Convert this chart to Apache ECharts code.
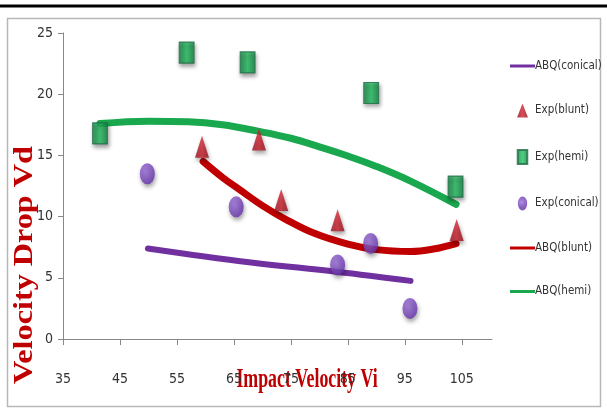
<!DOCTYPE html>
<html>
<head>
<meta charset="utf-8">
<script src="https://cdn.jsdelivr.net/npm/echarts@6/dist/echarts.min.js"></script>
<style>html,body{margin:0;padding:0;background:#fff}#c{width:607px;height:413px}</style>
</head>
<body>
<div id="c"></div>
<script>
// ---- data ----
var xTicks = [35, 45, 55, 65, 75, 85, 95, 105];
var yTicks = [0, 5, 10, 15, 20, 25];
var expBlunt = [[59.4, 15.7], [69.4, 16.3], [73.3, 11.35], [83.2, 9.7], [104.1, 8.9]];
var expHemi = [[41.5, 16.8], [56.7, 23.4], [67.4, 22.6], [89.1, 20.1], [103.9, 12.45]];
var expConical = [[49.8, 13.5], [65.4, 10.8], [83.2, 6.05], [89.0, 7.8], [95.9, 2.5]];
var abqConical = [[49.9, 7.4], [68, 6.25], [83, 5.5], [96, 4.75]];
var abqBlunt = [[59.6, 14.5], [63, 13.2], [66, 12.2], [70, 10.9], [74, 9.8], [79, 8.65], [85, 7.75], [90, 7.3], [96, 7.15], [100, 7.35], [104, 7.8]];
var abqHemi = [[41.5, 17.6], [50, 17.8], [57, 17.75], [63, 17.5], [69, 17.0], [75, 16.4], [80, 15.7], [85, 14.95], [90, 14.1], [96, 12.9], [104, 11.0]];
var legendNames = ['ABQ(conical)', 'Exp(blunt)', 'Exp(hemi)', 'Exp(conical)', 'ABQ(blunt)', 'ABQ(hemi)'];
var xTitle = 'Impact Velocity Vi';
var yTitle = 'Velocity Drop Vd';

var narrow = "'Liberation Sans Narrow','DejaVu Sans Condensed','Arial Narrow',sans-serif";
var chart = echarts.init(document.getElementById('c'), null, {renderer: 'canvas'});
var shadow = {shadowBlur: 4, shadowColor: 'rgba(0,0,0,0.45)', shadowOffsetY: 3, shadowOffsetX: 1};
function grad(c1, c2) {
  return new echarts.graphic.LinearGradient(0, 0, 1, 0, [{offset: 0, color: c2}, {offset: 0.5, color: c1}, {offset: 1, color: c2}]);
}
var lineIcon = 'path://M0,0H25V3H0Z';
var icons = {
  'ABQ(conical)': lineIcon,
  'Exp(blunt)': 'path://M7,0L14,18L0,18Z',
  'Exp(hemi)': 'path://M0,0H13V19H0Z',
  'Exp(conical)': 'path://M0,9A6,9 0 1,0 12,9A6,9 0 1,0 0,9Z',
  'ABQ(blunt)': lineIcon,
  'ABQ(hemi)': lineIcon
};
chart.setOption({
  animation: false,
  grid: {left: 63, top: 33, width: 429, height: 306},
  xAxis: {
    type: 'value', min: 35, max: 110.3,
    axisLine: {lineStyle: {color: '#888', width: 1}},
    axisTick: {show: true, length: 6, lineStyle: {color: '#888'}, customValues: xTicks},
    axisLabel: {customValues: xTicks, margin: 33, fontFamily: narrow, fontSize: 14, color: '#333'},
    splitLine: {show: false}
  },
  yAxis: {
    type: 'value', min: 0, max: 25, interval: 5,
    axisLine: {show: true, lineStyle: {color: '#888', width: 1}},
    axisTick: {show: true, length: 5, lineStyle: {color: '#888'}},
    axisLabel: {margin: 10, fontFamily: narrow, fontSize: 14, color: '#333'},
    splitLine: {show: false}
  },
  legend: {
    orient: 'vertical', left: 505, top: 55, itemGap: 31.5, itemWidth: 25, itemHeight: 14, symbolKeepAspect: true,
    textStyle: {fontFamily: narrow, fontSize: 11.5, color: '#333', padding: [0, 0, 0, -5]},
    data: legendNames.map(function (n) { return {name: n, icon: icons[n]}; })
  },
  graphic: [
    {type: 'line', shape: {x1: 0, y1: 6, x2: 607, y2: 6}, style: {stroke: '#000', lineWidth: 3}, silent: true},
    {type: 'rect', shape: {x: 7.5, y: 18.5, width: 593, height: 388}, style: {fill: 'none', stroke: '#b8b8b8', lineWidth: 1.5}, silent: true},
    {type: 'text', x: 307, y: 380, scaleX: 0.66, style: {text: xTitle, font: "bold 27px 'Liberation Serif', serif", fill: '#c00000', textAlign: 'center', textVerticalAlign: 'middle'}, silent: true},
    {type: 'text', x: 25, y: 265, rotation: Math.PI / 2, scaleX: 1.15, style: {text: yTitle, font: "bold 28px 'Liberation Serif', serif", fill: '#c00000', textAlign: 'center', textVerticalAlign: 'middle'}, silent: true}
  ],
  series: [
    {name: 'ABQ(conical)', type: 'line', data: abqConical, smooth: 0.4, symbol: 'none', z: 2,
     lineStyle: {color: '#7030a0', width: 6, cap: 'round'}, itemStyle: {color: '#7030a0'}},
    {name: 'Exp(blunt)', type: 'scatter', data: expBlunt, symbol: 'triangle', symbolSize: [14, 22], z: 4,
     itemStyle: Object.assign({color: grad('#d0202c', '#8c0c1c')}, shadow)},
    {name: 'Exp(hemi)', type: 'scatter', data: expHemi, symbol: 'rect', symbolSize: [15, 21], z: 4,
     itemStyle: Object.assign({color: grad('#22c060', '#108040'), borderColor: '#1f6b45', borderWidth: 1}, shadow)},
    {name: 'Exp(conical)', type: 'scatter', data: expConical, symbol: 'circle', symbolSize: [15, 21], z: 4,
     itemStyle: Object.assign({color: new echarts.graphic.RadialGradient(0.4, 0.4, 0.6, [{offset: 0, color: '#9a70d8'}, {offset: 1, color: '#6a34b0'}])}, shadow)},
    {name: 'ABQ(blunt)', type: 'line', data: abqBlunt, smooth: 0.4, symbol: 'none', z: 2,
     lineStyle: {color: '#c00000', width: 7, cap: 'round'}, itemStyle: {color: '#c00000'}},
    {name: 'ABQ(hemi)', type: 'line', data: abqHemi, smooth: 0.4, symbol: 'none', z: 2,
     lineStyle: {color: '#1aa84f', width: 7, cap: 'round'}, itemStyle: {color: '#1aa84f'}}
  ]
});
</script>
</body>
</html>
